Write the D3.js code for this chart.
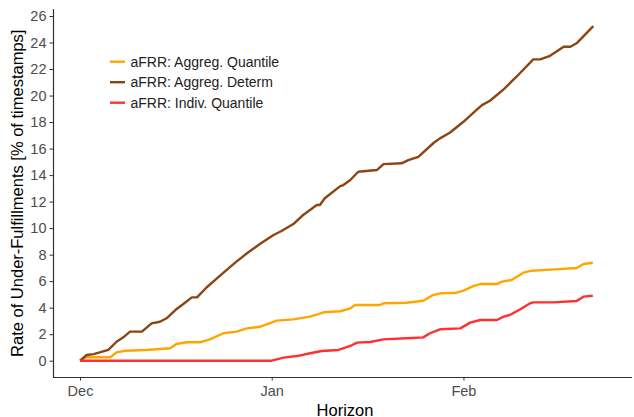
<!DOCTYPE html>
<html>
<head>
<meta charset="utf-8">
<script src="https://cdn.jsdelivr.net/npm/d3@7"></script>
<style>
  body { margin: 0; background: #fff; }
  svg text { font-family: "Liberation Sans", Arial, sans-serif; }
</style>
</head>
<body>
<div id="chart-area"></div>
<script>
// Data (days since 1 Dec, rate in %) -----------------------------
const quantDays = [0, 1.1, 4.9, 5.9, 7.3, 10.8, 12.9, 14.6, 15.6, 17.3, 19.4, 21.0, 23.2, 25.3, 27.0, 29.1,
  31.8, 34.5, 37.2, 39.4, 42.1, 43.7, 44.5, 48.5, 49.1, 52.8, 55.5, 57.1, 58.2, 60.9, 62.0, 63.6, 64.7,
  67.4, 68.2, 69.8, 71.7, 73.1, 76.8, 80.3, 81.4, 82.9]
const quantVals = [0, 0.26, 0.26, 0.63, 0.75, 0.81, 0.88, 0.94, 1.26, 1.39, 1.39, 1.61, 2.07, 2.19, 2.44, 2.56,
  3.02, 3.12, 3.32, 3.65, 3.73, 3.95, 4.2, 4.2, 4.33, 4.37, 4.52, 4.95, 5.08, 5.13, 5.28, 5.63, 5.78,
  5.78, 5.96, 6.09, 6.64, 6.79, 6.89, 6.99, 7.29, 7.39]

const determDays = [0, 1.1, 2.2, 4.6, 5.9, 7.0, 8.1, 10.0, 11.6, 12.9, 14.0, 15.4, 16.7, 18.1, 18.9, 20.5,
  23.2, 25.3, 27.0, 29.1, 31.3, 32.6, 34.5, 36.1, 38.3, 38.8, 39.6, 42.1, 42.6, 43.7, 45.0, 48.0, 49.1,
  52.0, 53.1, 54.7, 57.2, 58.2, 59.8, 62.0, 64.2, 65.0, 66.3, 68.5, 70.6, 73.3, 74.4, 76.0, 78.2, 79.3,
  80.3, 83.0]
const determVals = [0, 0.43, 0.5, 0.81, 1.43, 1.76, 2.19, 2.19, 2.82, 2.94, 3.2, 3.82, 4.28, 4.78, 4.78, 5.54,
  6.64, 7.47, 8.1, 8.8, 9.48, 9.78, 10.31, 10.99, 11.74, 11.74, 12.25, 13.17, 13.25, 13.63, 14.25, 14.38, 14.83,
  14.89, 15.13, 15.38, 16.44, 16.77, 17.19, 18.02, 18.96, 19.28, 19.61, 20.47, 21.42, 22.73, 22.73, 23.0, 23.68, 23.68,
  23.94, 25.24]

const indivDays = [0, 31.0, 32.9, 35.1, 37.2, 39.1, 41.8, 43.7, 44.8, 46.9, 49.1, 52.8, 55.5, 56.6, 58.2,
  61.5, 63.1, 64.7, 67.4, 68.5, 69.5, 71.2, 72.8, 73.3, 76.6, 80.3, 81.4, 82.9]
const indivVals = [0, 0, 0.23, 0.35, 0.56, 0.73, 0.81, 1.11, 1.36, 1.41, 1.61, 1.69, 1.76, 2.07, 2.37,
  2.44, 2.87, 3.07, 3.07, 3.32, 3.45, 3.88, 4.33, 4.4, 4.4, 4.5, 4.83, 4.9]

const seriesNames = ["aFRR: Aggreg. Quantile", "aFRR: Aggreg. Determ", "aFRR: Indiv. Quantile"]
const seriesColors = ["#FFA500", "#8B4513", "#FF3030"]
const monthTicks = ["2022-12-01", "2023-01-01", "2023-02-01"]
const yTicks = [0, 2, 4, 6, 8, 10, 12, 14, 16, 18, 20, 22, 24, 26]

// Canvas setup -------------------------------------------------
const WIDTH = 634
const HEIGHT = 417
const PANEL = {LEFT: 53.5, RIGHT: 632, TOP: 9, BOTTOM: 377.5}

const svg = d3.select("#chart-area").append("svg")
  .attr("width", WIDTH)
  .attr("height", HEIGHT)

const start = new Date(2022, 11, 1)
const toDate = d => d3.timeHour.offset(start, Math.round(d * 24))

const xScale = d3.scaleTime()
  .domain([start, toDate(83)])
  .range([80, 593.3])

const yScale = d3.scaleLinear()
  .domain([0, 26])
  .range([360.7, 16])

const series = [
  {name: seriesNames[0], color: seriesColors[0], days: quantDays, vals: quantVals},
  {name: seriesNames[1], color: seriesColors[1], days: determDays, vals: determVals},
  {name: seriesNames[2], color: seriesColors[2], days: indivDays, vals: indivVals}
]

// Axes ---------------------------------------------------------
const xAxis = svg.append("g")
  .attr("transform", `translate(0, ${PANEL.BOTTOM})`)
  .call(d3.axisBottom(xScale)
    .tickValues(monthTicks.map(d => d3.timeParse("%Y-%m-%d")(d)))
    .tickFormat(d3.timeFormat("%b"))
    .tickSize(3)
    .tickPadding(5))
xAxis.select(".domain").remove()
xAxis.selectAll(".tick line").attr("stroke", "#333")
xAxis.selectAll(".tick text")
  .attr("fill", "#4d4d4d")
  .attr("font-size", "14.5px")

const yAxis = svg.append("g")
  .attr("transform", `translate(${PANEL.LEFT}, 0)`)
  .call(d3.axisLeft(yScale)
    .tickValues(yTicks)
    .tickSize(4)
    .tickPadding(3))
yAxis.select(".domain").remove()
yAxis.selectAll(".tick line").attr("stroke", "#333")
yAxis.selectAll(".tick text")
  .attr("fill", "#4d4d4d")
  .attr("font-size", "14.5px")

// panel border lines (left + bottom)
svg.append("path")
  .attr("d", `M${PANEL.LEFT},${PANEL.TOP}V${PANEL.BOTTOM}H${PANEL.RIGHT}`)
  .attr("fill", "none")
  .attr("stroke", "#333")
  .attr("stroke-width", 1.2)

// axis titles
svg.append("text")
  .text("Horizon")
  .attr("x", 345)
  .attr("y", 415.5)
  .attr("text-anchor", "middle")
  .attr("font-size", "16.5px")
  .attr("fill", "#000")

svg.append("text")
  .text("Rate of Under-Fulfillments [% of timestamps]")
  .attr("transform", `translate(23, ${(PANEL.TOP + PANEL.BOTTOM) / 2}) rotate(-90)`)
  .attr("text-anchor", "middle")
  .attr("font-size", "16.5px")
  .attr("fill", "#000")

// Lines --------------------------------------------------------
const line = d3.line()
  .x(d => xScale(d.date))
  .y(d => yScale(d.value))

svg.selectAll(".series")
  .data(series)
  .enter().append("path")
  .attr("class", "series")
  .attr("d", s => line(s.days.map((d, i) => ({date: toDate(d), value: s.vals[i]}))))
  .attr("fill", "none")
  .attr("stroke", s => s.color)
  .attr("stroke-width", 2.4)
  .attr("stroke-linejoin", "round")

// Legend -------------------------------------------------------
const legend = svg.append("g")
  .attr("transform", "translate(110, 61.7)")

const items = legend.selectAll("g")
  .data(series)
  .enter().append("g")
  .attr("transform", (d, i) => `translate(0, ${i * 20.5})`)

items.append("line")
  .attr("x1", 0)
  .attr("x2", 15)
  .attr("stroke", d => d.color)
  .attr("stroke-width", 2.4)

items.append("text")
  .text(d => d.name)
  .attr("x", 20.5)
  .attr("dy", "0.35em")
  .attr("font-size", "14px")
  .attr("fill", "#222")
</script>
</body>
</html>
